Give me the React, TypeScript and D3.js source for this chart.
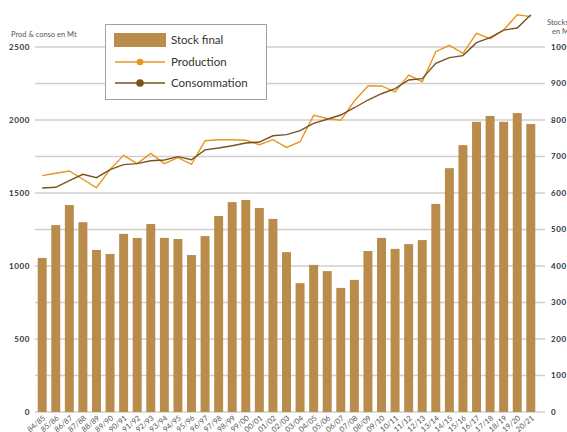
import * as d3 from 'd3';

const seasons = [
  '84/85', '85/86', '86/87', '87/88', '88/89', '89/90', '90/91', '91/92', '92/93', '93/94',
  '94/95', '95/96', '96/97', '97/98', '98/99', '99/00', '00/01', '01/02', '02/03', '03/04',
  '04/05', '05/06', '06/07', '07/08', '08/09', '09/10', '10/11', '11/12', '12/13', '13/14',
  '14/15', '15/16', '16/17', '17/18', '18/19', '19/20', '20/21',
];

// stock final (Mt, right axis)
const stock = [
  422, 512, 567, 520, 444, 433, 488, 477, 515, 477,
  474, 430, 482, 537, 575, 581, 559, 529, 438, 353,
  403, 386, 340, 362, 441, 477, 447, 460, 471, 570,
  668, 731, 795, 811, 795, 819, 789,
];

// production (Mt, left axis)
const production = [
  1619, 1635, 1651, 1594, 1536, 1662, 1758, 1701, 1771, 1701,
  1742, 1696, 1858, 1865, 1865, 1861, 1831, 1865, 1812, 1851,
  2032, 2010, 1998, 2130, 2233, 2233, 2192, 2308, 2262, 2468,
  2511, 2457, 2594, 2557, 2616, 2721, 2708,
];

// consommation (Mt, left axis)
const consumption = [
  1534, 1539, 1584, 1628, 1605, 1660, 1694, 1701, 1721, 1726,
  1749, 1728, 1795, 1808, 1824, 1842, 1849, 1892, 1900, 1927,
  1977, 2005, 2034, 2084, 2137, 2180, 2215, 2274, 2283, 2388,
  2427, 2441, 2530, 2564, 2616, 2630, 2721,
];

const leftTicks = [0, 500, 1000, 1500, 2000, 2500];
const gridTicks = [0, 250, 500, 750, 1000, 1250, 1500, 1750, 2000, 2250, 2500];
const rightTicks = [0, 100, 200, 300, 400, 500, 600, 700, 800, 900, 1000];

const W = 567;
const H = 432;
const colors = { bar: '#b98c4b', prod: '#e8961e', conso: '#7a5220', grid: '#cfcfcf' };
const font = 'Lato, "Open Sans", sans-serif';

export default function App() {
  const x = d3.scaleBand<string>().domain(seasons).range([35, 538]).paddingInner(0.34).paddingOuter(0.2);
  const yL = d3.scaleLinear().domain([0, 2500]).range([412, 47]);
  const yR = d3.scaleLinear().domain([0, 1000]).range([412, 47]);
  const cx = (i: number) => (x(seasons[i]) as number) + x.bandwidth() / 2;

  const line = d3.line<number>().x((_, i) => cx(i)).y(d => yL(d));

  return (
    <div style={{ position: 'absolute', left: 0, top: 0 }}>
      <svg width={W} height={H} style={{ display: 'block', background: '#fff' }} fontFamily={font}>
        {gridTicks.map(t => (
          <line key={t} x1={35} x2={545} y1={yL(t)} y2={yL(t)} stroke={colors.grid} strokeWidth={1.3} />
        ))}
        {leftTicks.map(t => (
          <text key={t} x={30} y={yL(t)} dy="0.35em" textAnchor="end" fontSize={8} fontWeight="bold"
            fill="#333" letterSpacing="0.6">{t}</text>
        ))}
        {rightTicks.map(t => (
          <text key={t} x={551} y={yR(t)} dy="0.35em" textAnchor="start" fontSize={8} fontWeight="bold"
            fill="#333" letterSpacing="0.6">{t}</text>
        ))}
        <text x={11} y={37} fontSize={7.5} fill="#555">Prod &amp; conso en Mt</text>
        <text x={547} y={25} fontSize={7.5} fill="#555">Stocks</text>
        <text x={552} y={34} fontSize={7.5} fill="#555">en Mt</text>

        {stock.map((v, i) => (
          <rect key={seasons[i]} x={x(seasons[i])} y={yR(v)} width={x.bandwidth()} height={yR(0) - yR(v)}
            fill={colors.bar} />
        ))}

        {seasons.map((s, i) => (
          <text key={s} transform={`translate(${cx(i) + 2},${417}) rotate(-40)`} textAnchor="end"
            dy="0.35em" fontSize={7.5} fill="#555">{s}</text>
        ))}

        <path d={line(production) ?? ''} fill="none" stroke={colors.prod} strokeWidth={1.4} />
        <path d={line(consumption) ?? ''} fill="none" stroke={colors.conso} strokeWidth={1.4} />

        <g>
          <rect x={105.5} y={24.5} width={161} height={75} fill="#fff" stroke="#a0a0a0" strokeWidth={1} />
          <rect x={114} y={33} width={52} height={14} fill={colors.bar} />
          <text x={171} y={40} dy="0.35em" fontSize={11.5} fill="#333">Stock final</text>
          <line x1={115} x2={165} y1={62} y2={62} stroke={colors.prod} strokeWidth={1.4} />
          <circle cx={140} cy={62} r={3.3} fill={colors.prod} />
          <text x={171} y={62} dy="0.35em" fontSize={11.5} fill="#333">Production</text>
          <line x1={115} x2={165} y1={83} y2={83} stroke={colors.conso} strokeWidth={1.4} />
          <circle cx={140} cy={83} r={3.8} fill={colors.conso} />
          <text x={171} y={83} dy="0.35em" fontSize={11.5} fill="#333">Consommation</text>
        </g>
      </svg>
    </div>
  );
}
